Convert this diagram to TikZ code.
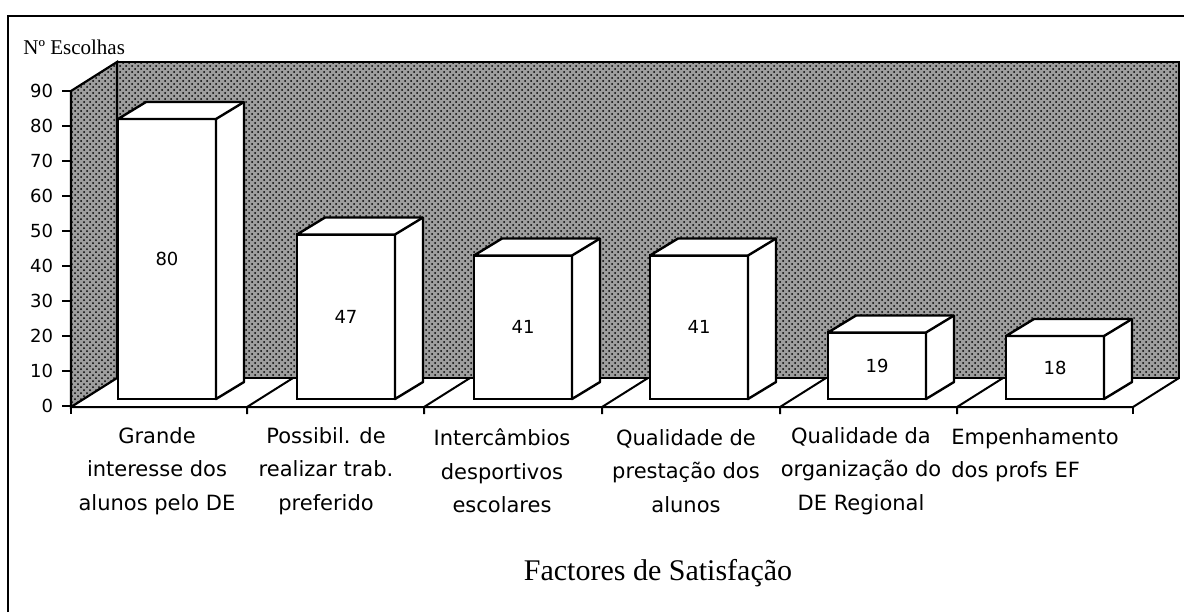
\documentclass[tikz,border=0pt]{standalone}
\usepackage{fontspec}
\setmainfont{Liberation Serif}
\setsansfont{DejaVu Sans}
\usetikzlibrary{patterns}

\begin{document}
\begin{tikzpicture}[
    x=0.5pt, y=-0.5pt,
    wall/.style={draw=black, line width=1.1pt, preaction={fill=black!38}, pattern=crosshatch dots, pattern color=black},
    axisline/.style={draw=black, line width=1pt},
    barfront/.style={rectangle, draw=black, line width=1.2pt, fill=white, minimum width=49pt, inner sep=0pt, outer sep=0pt, font=\sffamily\fontsize{9}{11}\selectfont},
    barside/.style={draw=black, line width=1.2pt, fill=white, line join=round},
    ticklabel/.style={anchor=east, inner sep=4pt, font=\sffamily\fontsize{9}{11}\selectfont},
    category/.style={align=center, font=\sffamily\fontsize{10.5}{16.75}\selectfont}
]
\useasboundingbox (0,0) rectangle (1184,612);

% Frame
\draw[line width=1pt] (8,612) -- (8,16) -- (1184,16);

% Walls
\draw[wall] (117,62) rectangle (1179,378);
\draw[wall] (71,91) -- (117,62) -- (117,378) -- (71,407) -- cycle;

% Floor
\draw[axisline] (71,407) -- (1133,407) -- (1179,378);
\draw[axisline] (247,414) -- (247,407) -- ++(46,-29);
\draw[axisline] (424,414) -- (424,407) -- ++(46,-29);
\draw[axisline] (602,414) -- (602,407) -- ++(46,-29);
\draw[axisline] (780,414) -- (780,407) -- ++(46,-29);
\draw[axisline] (957,414) -- (957,407) -- ++(46,-29);
\draw[axisline] (1133,414) -- (1133,407);

% Axis
\draw[axisline] (71,91) -- (71,414);
\draw[axisline] (71,406) -- (62,406) node[ticklabel] (y0) {0};
\draw[axisline] (71,371) -- (62,371) node[ticklabel] (y10) {10};
\draw[axisline] (71,336) -- (62,336) node[ticklabel] (y20) {20};
\draw[axisline] (71,301) -- (62,301) node[ticklabel] (y30) {30};
\draw[axisline] (71,266) -- (62,266) node[ticklabel] (y40) {40};
\draw[axisline] (71,231) -- (62,231) node[ticklabel] (y50) {50};
\draw[axisline] (71,196) -- (62,196) node[ticklabel] (y60) {60};
\draw[axisline] (71,161) -- (62,161) node[ticklabel] (y70) {70};
\draw[axisline] (71,126) -- (62,126) node[ticklabel] (y80) {80};
\draw[axisline] (71,91) -- (62,91) node[ticklabel] (y90) {90};
\node[anchor=west, inner sep=0pt, font=\fontsize{10.5}{12}\selectfont] (ylabel) at (23,47) {Nº Escolhas};

% Bars
\node[barfront, minimum height=140pt] (bar1) at (167,259) {80};
\draw[barside] (bar1.north west) -- ++(28,-17) -- ++(98,0) -- ([shift={(28,-17)}]bar1.south east) -- (bar1.south east) -- (bar1.north east) -- cycle;
\draw[barside] (bar1.north east) -- ++(28,-17);

\node[barfront, minimum height=82.25pt] (bar2) at (346,316.75) {47};
\draw[barside] (bar2.north west) -- ++(28,-17) -- ++(98,0) -- ([shift={(28,-17)}]bar2.south east) -- (bar2.south east) -- (bar2.north east) -- cycle;
\draw[barside] (bar2.north east) -- ++(28,-17);

\node[barfront, minimum height=71.75pt] (bar3) at (523,327.25) {41};
\draw[barside] (bar3.north west) -- ++(28,-17) -- ++(98,0) -- ([shift={(28,-17)}]bar3.south east) -- (bar3.south east) -- (bar3.north east) -- cycle;
\draw[barside] (bar3.north east) -- ++(28,-17);

\node[barfront, minimum height=71.75pt] (bar4) at (699,327.25) {41};
\draw[barside] (bar4.north west) -- ++(28,-17) -- ++(98,0) -- ([shift={(28,-17)}]bar4.south east) -- (bar4.south east) -- (bar4.north east) -- cycle;
\draw[barside] (bar4.north east) -- ++(28,-17);

\node[barfront, minimum height=33.25pt] (bar5) at (877,365.75) {19};
\draw[barside] (bar5.north west) -- ++(28,-17) -- ++(98,0) -- ([shift={(28,-17)}]bar5.south east) -- (bar5.south east) -- (bar5.north east) -- cycle;
\draw[barside] (bar5.north east) -- ++(28,-17);

\node[barfront, minimum height=31.5pt] (bar6) at (1055,367.5) {18};
\draw[barside] (bar6.north west) -- ++(28,-17) -- ++(98,0) -- ([shift={(28,-17)}]bar6.south east) -- (bar6.south east) -- (bar6.north east) -- cycle;
\draw[barside] (bar6.north east) -- ++(28,-17);

% Categories
\node[category] (cat1) at (157,471) {Grande\\interesse dos\\alunos pelo DE};
\node[category] (cat2) at (326,471) {Possibil. de\\realizar trab.\\preferido};
\node[category] (cat3) at (502,471) {Intercâmbios\\desportivos\\escolares};
\node[category] (cat4) at (686,471) {Qualidade de\\prestação dos\\alunos};
\node[category] (cat5) at (861,471) {Qualidade da\\organização do\\DE Regional};
\node[category, align=left] (cat6) at (1035,455) {Empenhamento\\dos profs EF};

\node[font=\fontsize{15}{18}\selectfont] (title) at (658,573) {Factores de Satisfação};
\end{tikzpicture}
\end{document}
